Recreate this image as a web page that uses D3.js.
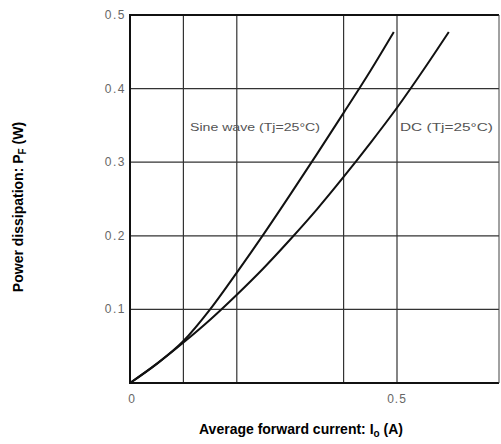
<!DOCTYPE html>
<html>
<head>
<meta charset="utf-8">
<script src="https://cdn.jsdelivr.net/npm/d3@7"></script>
<style>
  body { margin: 0; background: #fff; }
  svg { display: block; font-family: "Liberation Sans", Arial, sans-serif; }
</style>
</head>
<body>
<div id="vis"></div>
<script>
// current Io (A) vs power PF (W)
const sineI = [0, 0.05, 0.1, 0.15, 0.2, 0.25, 0.3, 0.35, 0.4, 0.45, 0.494];
const sineP = [0, 0.026, 0.057, 0.100, 0.150, 0.202, 0.256, 0.311, 0.367, 0.424, 0.477];
const dcI = [0, 0.05, 0.1, 0.15, 0.2, 0.25, 0.3, 0.35, 0.4, 0.45, 0.5, 0.55, 0.597];
const dcP = [0, 0.026, 0.055, 0.086, 0.120, 0.156, 0.195, 0.236, 0.280, 0.326, 0.374, 0.426, 0.477];

const xGrid = [0.1, 0.2, 0.4, 0.5];
const yGrid = [0.1, 0.2, 0.3, 0.4];
const yTicks = [0.1, 0.2, 0.3, 0.4, 0.5];
const xTicks = [0, 0.5];

let width = 501;
let height = 444;

var svg = d3.select("#vis")
    .append("svg")
    .attr("width", width)
    .attr("height", height);

var x = d3.scaleLinear().domain([0, 0.5]).range([130, 397]);
var y = d3.scaleLinear().domain([0, 0.5]).range([383, 15]);
var right = 499;

// grid
svg.selectAll("line.gx")
    .data(xGrid)
    .enter().append("line")
    .attr("x1", d => x(d)).attr("x2", d => x(d))
    .attr("y1", y(0)).attr("y2", y(0.5))
    .attr("stroke", "#333").attr("stroke-width", 1.2);

svg.selectAll("line.gy")
    .data(yGrid)
    .enter().append("line")
    .attr("x1", x(0)).attr("x2", right)
    .attr("y1", d => y(d)).attr("y2", d => y(d))
    .attr("stroke", "#333").attr("stroke-width", 1.2);

// frame
svg.append("line").attr("x1", x(0)).attr("x2", right).attr("y1", y(0.5)).attr("y2", y(0.5))
    .attr("stroke", "#111").attr("stroke-width", 2);
svg.append("line").attr("x1", x(0)).attr("x2", right).attr("y1", y(0)).attr("y2", y(0))
    .attr("stroke", "#111").attr("stroke-width", 2);
svg.append("line").attr("x1", x(0)).attr("x2", x(0)).attr("y1", y(0) + 1).attr("y2", y(0.5) - 1)
    .attr("stroke", "#111").attr("stroke-width", 2);
svg.append("line").attr("x1", right).attr("x2", right).attr("y1", y(0)).attr("y2", y(0.5))
    .attr("stroke", "#444").attr("stroke-width", 1);

// curves
var line = d3.line()
    .x(d => x(d[0]))
    .y(d => y(d[1]))
    .curve(d3.curveMonotoneX);

svg.append("path")
    .datum(d3.zip(sineI, sineP))
    .attr("d", line)
    .attr("fill", "none").attr("stroke", "#111").attr("stroke-width", 2);

svg.append("path")
    .datum(d3.zip(dcI, dcP))
    .attr("d", line)
    .attr("fill", "none").attr("stroke", "#111").attr("stroke-width", 2);

// tick labels
svg.selectAll("text.ty")
    .data(yTicks)
    .enter().append("text")
    .attr("x", 126)
    .attr("y", d => y(d) + 4)
    .attr("text-anchor", "end")
    .attr("font-size", 12)
    .attr("letter-spacing", 1.5)
    .attr("fill", "#666")
    .text(d => d3.format(".1f")(d));

svg.selectAll("text.tx")
    .data(xTicks)
    .enter().append("text")
    .attr("x", d => x(d) + (d === 0 ? 2 : 0))
    .attr("y", 403)
    .attr("text-anchor", "middle")
    .attr("font-size", 12)
    .attr("letter-spacing", 1)
    .attr("fill", "#666")
    .text(d => d === 0 ? "0" : d3.format(".1f")(d));

// curve labels
svg.append("text")
    .attr("x", 190).attr("y", 131)
    .attr("font-size", 11)
    .attr("fill", "#555")
    .attr("textLength", 130)
    .attr("lengthAdjust", "spacingAndGlyphs")
    .text("Sine wave (Tj=25°C)");

svg.append("text")
    .attr("x", 400).attr("y", 131)
    .attr("font-size", 11)
    .attr("fill", "#555")
    .attr("textLength", 93)
    .attr("lengthAdjust", "spacingAndGlyphs")
    .text("DC (Tj=25°C)");

// axis titles
var xt = svg.append("text")
    .attr("x", 301).attr("y", 434)
    .attr("text-anchor", "middle")
    .attr("font-size", 14)
    .attr("font-weight", "bold");
xt.append("tspan").text("Average forward current: I");
xt.append("tspan").attr("font-size", 10).attr("dy", 3).text("o");
xt.append("tspan").attr("dy", -3).text(" (A)");

var yt = svg.append("text")
    .attr("transform", "translate(23,207) rotate(-90)")
    .attr("text-anchor", "middle")
    .attr("font-size", 14)
    .attr("font-weight", "bold");
yt.append("tspan").text("Power dissipation: P");
yt.append("tspan").attr("font-size", 10).attr("dy", 3).text("F");
yt.append("tspan").attr("dy", -3).text(" (W)");
</script>
</body>
</html>
